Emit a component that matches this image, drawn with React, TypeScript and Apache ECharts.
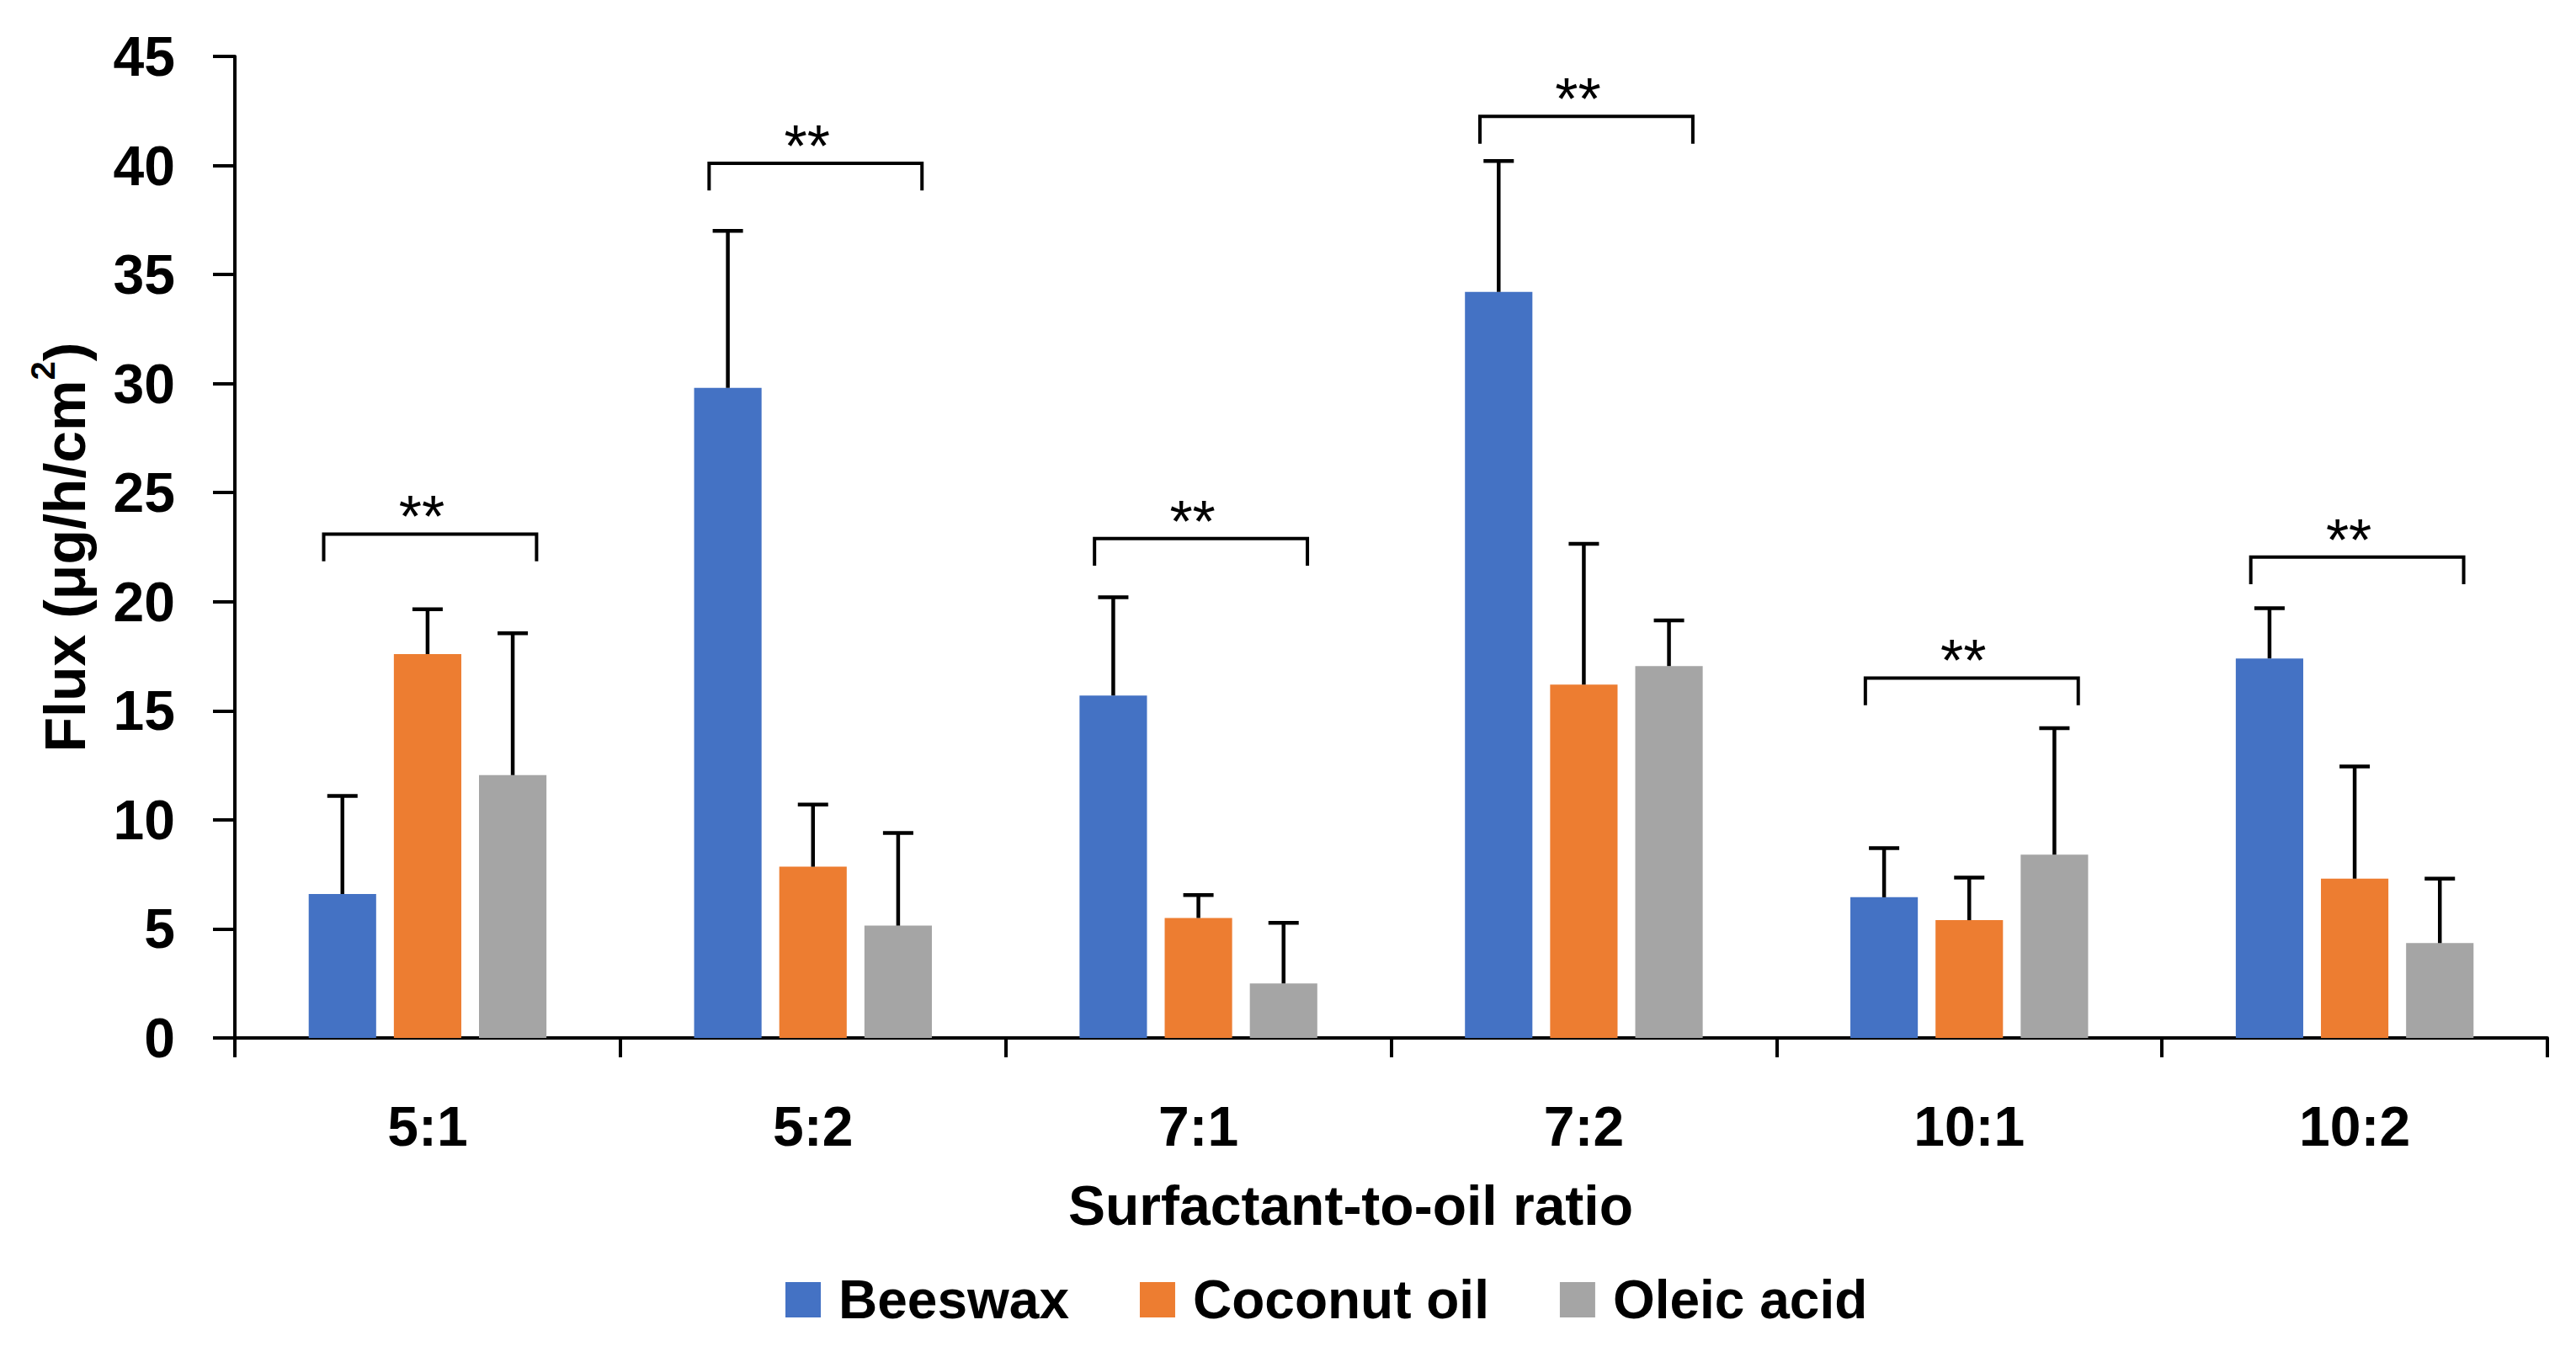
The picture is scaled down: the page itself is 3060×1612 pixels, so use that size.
import { useEffect, useRef } from "react";
import * as echarts from "echarts";

const categories = ["5:1", "5:2", "7:1", "7:2", "10:1", "10:2"];
const seriesNames = ["Beeswax", "Coconut oil", "Oleic acid"];
const beeswax = [6.6, 29.8, 15.7, 34.2, 6.45, 17.4];
const beeswaxSd = [4.5, 7.2, 4.5, 6.0, 2.25, 2.3];
const coconut = [17.6, 7.85, 5.5, 16.2, 5.4, 7.3];
const coconutSd = [2.05, 2.85, 1.05, 6.45, 1.95, 5.15];
const oleic = [12.05, 5.15, 2.5, 17.05, 8.4, 4.35];
const oleicSd = [6.5, 4.25, 2.78, 2.09, 5.8, 2.95];
// height of the significance bracket above each group
const bracketTop = [23.1, 40.1, 22.9, 42.25, 16.5, 22.05];
const bracketLabel = "**";

const colors = ["#4472C4", "#ED7D31", "#A5A5A5"];
const FONT = "'Liberation Sans', Arial, sans-serif";
const BAR_RATIO = 0.175;
const GAP_RATIO = 0.2625;

const slotWidth = (api: any) => api.size([1, 0])[0] * BAR_RATIO * (1 + GAP_RATIO);

const errorSeries = (name: string, means: number[], sds: number[], k: number) => ({
  type: "custom",
  name: name + " SD",
  silent: true,
  z: 3,
  data: means.map((m, i) => [i, m, m + sds[i]]),
  encode: { x: 0, y: [1, 2] },
  renderItem: (_params: any, api: any) => {
    const off = (k - 1) * slotWidth(api);
    const lo = api.coord([api.value(0), api.value(1)]);
    const hi = api.coord([api.value(0), api.value(2)]);
    const x = lo[0] + off;
    const style = { stroke: "#000", lineWidth: 4.5 };
    return {
      type: "group",
      children: [
        { type: "line", shape: { x1: x, y1: lo[1], x2: x, y2: hi[1] }, style },
        { type: "line", shape: { x1: x - 18, y1: hi[1], x2: x + 18, y2: hi[1] }, style },
      ],
    };
  },
});

const bracketSeries = {
  type: "custom",
  name: "brackets",
  silent: true,
  z: 4,
  data: bracketTop.map((v, i) => [i, v]),
  encode: { x: 0, y: 1 },
  renderItem: (_params: any, api: any) => {
    const slot = slotWidth(api);
    const top = api.coord([api.value(0), api.value(1)]);
    const foot = api.coord([api.value(0), api.value(1) - 1.25]);
    const left = top[0] - 1.22 * slot;
    const right = top[0] + 1.28 * slot;
    return {
      type: "group",
      children: [
        {
          type: "polyline",
          shape: { points: [[left, foot[1]], [left, top[1]], [right, top[1]], [right, foot[1]]] },
          style: { stroke: "#000", lineWidth: 4, fill: "none" },
        },
        {
          type: "text",
          x: (left + right) / 2 - 10,
          y: top[1] - 20,
          style: {
            text: bracketLabel,
            fontSize: 70,
            fontFamily: FONT,
            fill: "#000",
            align: "center",
            verticalAlign: "middle",
          },
        },
      ],
    };
  },
};

export default function App() {
  const chartRef = useRef<HTMLDivElement | null>(null);

  useEffect(() => {
    document.body.style.margin = "0";
    if (!chartRef.current) return;
    const chart = echarts.init(chartRef.current, null, { renderer: "svg" });

    const barSeries = [beeswax, coconut, oleic].map((values, k) => ({
      type: "bar",
      name: seriesNames[k],
      data: values,
      barWidth: BAR_RATIO * 100 + "%",
      barGap: GAP_RATIO * 100 + "%",
      itemStyle: { color: colors[k] },
      z: 2,
    }));

    chart.setOption({
      animation: false,
      backgroundColor: "#fff",
      textStyle: { fontFamily: FONT },
      grid: { left: 279, right: 34, top: 67, bottom: 379, outerBoundsMode: "none" },
      legend: {
        data: seriesNames,
        left: 928,
        top: 1507,
        icon: "rect",
        itemWidth: 42,
        itemHeight: 42,
        itemGap: 84,
        textStyle: { fontSize: 64, fontWeight: "bold", color: "#000", fontFamily: FONT, padding: [0, 0, 0, 16] },
      },
      xAxis: {
        type: "category",
        data: categories,
        name: "Surfactant-to-oil ratio",
        nameLocation: "middle",
        nameGap: 166,
        nameTextStyle: { fontSize: 66, fontWeight: "bold", color: "#000", fontFamily: FONT, padding: [0, 96, 0, 0] },
        axisLine: { lineStyle: { color: "#000", width: 4 } },
        axisTick: { show: true, length: 23, lineStyle: { color: "#000", width: 4 } },
        axisLabel: { fontSize: 66, fontWeight: "bold", color: "#000", margin: 72, fontFamily: FONT },
      },
      yAxis: {
        type: "value",
        min: 0,
        max: 45,
        interval: 5,
        name: "{b|Flux (μg/h/cm}{sup|2}{b|)}",
        nameLocation: "middle",
        nameRotate: 90,
        nameGap: 168,
        nameTextStyle: {
          rich: {
            b: { fontSize: 68, fontWeight: "bold", color: "#000", fontFamily: FONT, lineHeight: 80, verticalAlign: "bottom" },
            sup: { fontSize: 40, fontWeight: "bold", color: "#000", fontFamily: FONT, lineHeight: 50, verticalAlign: "top" },
          },
        },
        axisLine: { show: true, lineStyle: { color: "#000", width: 4 } },
        axisTick: { show: true, length: 26, lineStyle: { color: "#000", width: 4 } },
        axisLabel: { fontSize: 66, fontWeight: "bold", color: "#000", margin: 71, fontFamily: FONT },
        splitLine: { show: false },
      },
      series: [
        ...barSeries,
        errorSeries(seriesNames[0], beeswax, beeswaxSd, 0),
        errorSeries(seriesNames[1], coconut, coconutSd, 1),
        errorSeries(seriesNames[2], oleic, oleicSd, 2),
        bracketSeries,
      ],
    });

    return () => {
      chart.dispose();
    };
  }, []);

  return <div ref={chartRef} style={{ width: 3060, height: 1612 }} />;
}
